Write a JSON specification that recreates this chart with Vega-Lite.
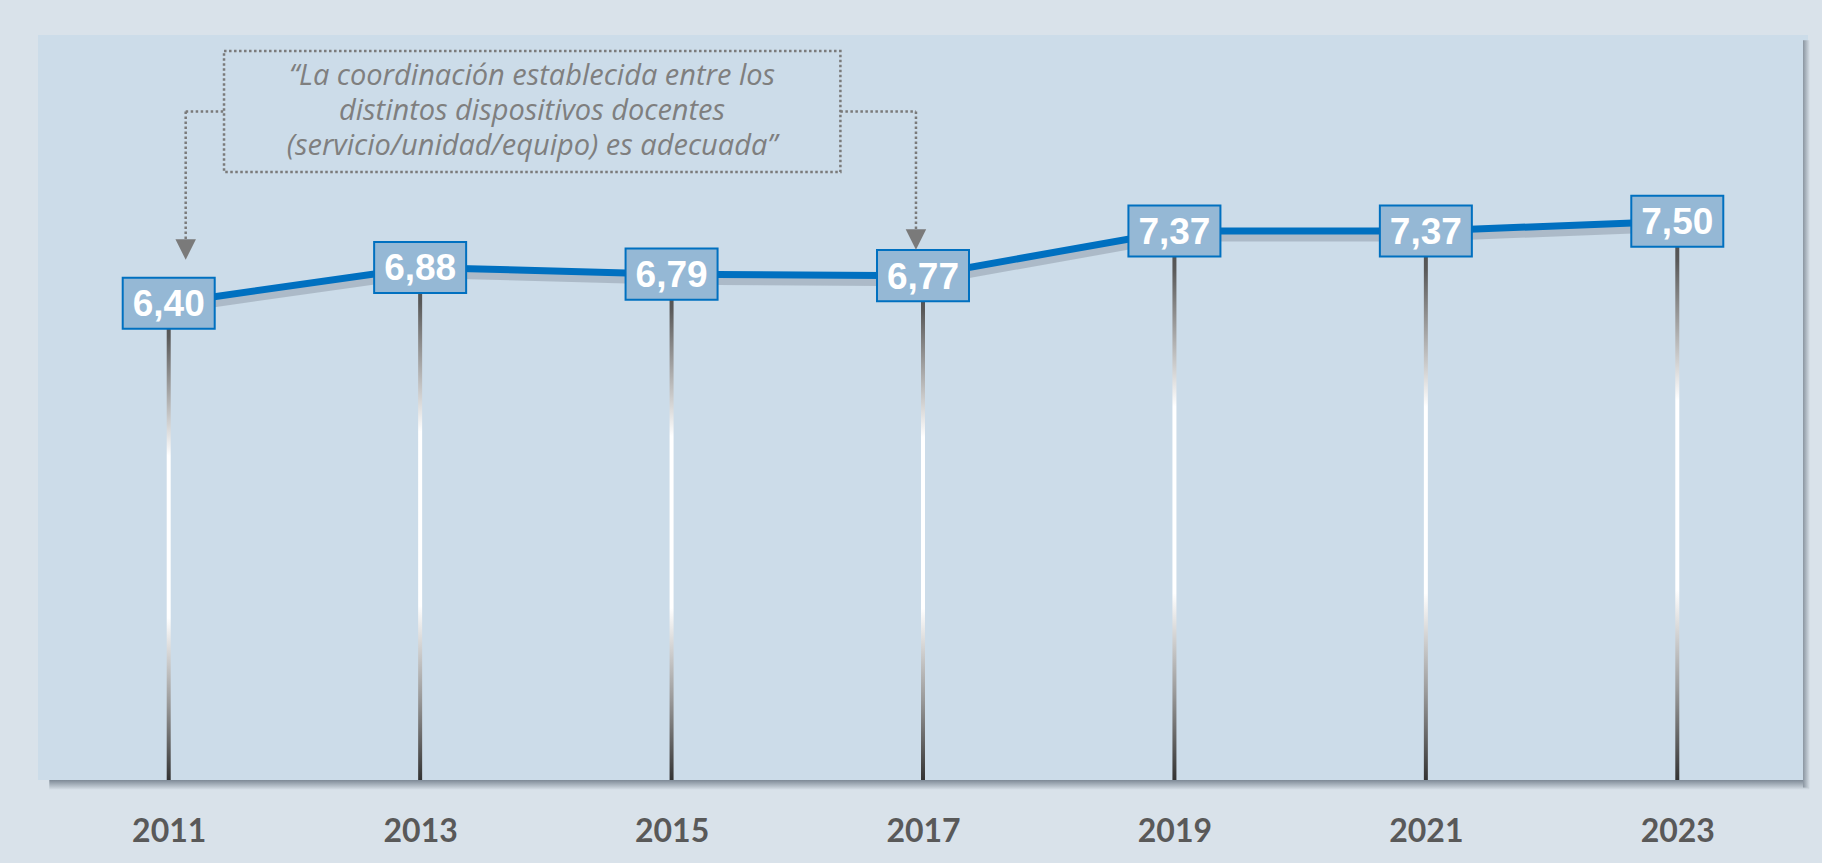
{
  "$schema": "https://vega.github.io/schema/vega-lite/v6.json",
  "width": 1770,
  "height": 745,
  "autosize": {"type": "none"},
  "padding": {"left": 38, "top": 35, "right": 14, "bottom": 83},
  "background": "#d9e2ea",
  "config": {
    "view": {"fill": "#ccdce9", "stroke": null},
    "axisX": {"title": null, "domain": false, "ticks": false, "tickSize": 0, "grid": false,
      "labelFont": "Lato", "labelFontWeight": "bold", "labelFontSize": 32, "labelColor": "#595959", "labelBaseline": "alphabetic", "labelPadding": 61, "labelFlush": false, "labelOverlap": false},
    "locale": {"number": {"decimal": ",", "thousands": ".", "grouping": [3], "currency": ["", " €"]}}
  },
  "data": {"values": [
    {"year": 2011, "value": 6.40},
    {"year": 2013, "value": 6.88},
    {"year": 2015, "value": 6.79},
    {"year": 2017, "value": 6.77},
    {"year": 2019, "value": 7.37},
    {"year": 2021, "value": 7.37},
    {"year": 2023, "value": 7.50}
  ]},
  "layer": [
    {
      "mark": {"type": "bar", "orient": "vertical", "size": 4, "fill": {"gradient": "linear", "x1": 0, "y1": 0, "x2": 0, "y2": 1, "stops": [
        {"offset": 0, "color": "#4a4a4a"},
        {"offset": 0.07, "color": "#595959"},
        {"offset": 0.17, "color": "#9a9a9a"},
        {"offset": 0.32, "color": "#ffffff"},
        {"offset": 0.66, "color": "#ffffff"},
        {"offset": 0.84, "color": "#9a9a9a"},
        {"offset": 1, "color": "#333333"}
      ]}},
      "encoding": {
        "x": {"field": "year", "type": "quantitative", "title": null, "scale": {"domain": [2010, 2024], "nice": false, "zero": false},
          "axis": {"values": [2011, 2013, 2015, 2017, 2019, 2021, 2023], "format": "d", "title": null}},
        "y": {"field": "value", "type": "quantitative", "title": null, "scale": {"domain": [0, 10], "nice": false}, "axis": null},
        "y2": {"datum": 0}
      }
    },
    {
      "data": {"values": [{}]},
      "mark": {"type": "rect", "fill": {"gradient": "linear", "x1": 0, "y1": 0, "x2": 0, "y2": 1, "stops": [{"offset": 0, "color": "#7d8995"}, {"offset": 1, "color": "#d6dfe7"}]}},
      "encoding": {
        "x": {"datum": 2010.05, "type": "quantitative", "title": null, "scale": {"domain": [2010, 2024], "nice": false, "zero": false},
          "axis": {"values": [2011, 2013, 2015, 2017, 2019, 2021, 2023], "format": "d", "title": null}},
        "x2": {"datum": 2024.05},
        "y": {"datum": 0, "type": "quantitative", "title": null, "scale": {"domain": [0, 10], "nice": false}, "axis": null},
        "y2": {"datum": -0.13}
      }
    },
    {
      "data": {"values": [{}]},
      "mark": {"type": "rect", "fill": {"gradient": "linear", "x1": 0, "y1": 0, "x2": 1, "y2": 0, "stops": [{"offset": 0, "color": "#8a95a0"}, {"offset": 1, "color": "#d8e1e9"}]}},
      "encoding": {
        "x": {"datum": 2024, "type": "quantitative", "title": null, "scale": {"domain": [2010, 2024], "nice": false, "zero": false},
          "axis": {"values": [2011, 2013, 2015, 2017, 2019, 2021, 2023], "format": "d", "title": null}},
        "x2": {"datum": 2024.055},
        "y": {"datum": -0.1, "type": "quantitative", "title": null, "scale": {"domain": [0, 10], "nice": false}, "axis": null},
        "y2": {"datum": 9.93}
      }
    },
    {
      "mark": {"type": "line", "color": "#5a6673", "opacity": 0.28, "strokeWidth": 9, "yOffset": 6},
      "encoding": {
        "x": {"field": "year", "type": "quantitative", "title": null, "scale": {"domain": [2010, 2024], "nice": false, "zero": false},
          "axis": {"values": [2011, 2013, 2015, 2017, 2019, 2021, 2023], "format": "d", "title": null}},
        "y": {"field": "value", "type": "quantitative", "title": null, "scale": {"domain": [0, 10], "nice": false}, "axis": null}
      }
    },
    {
      "mark": {"type": "line", "color": "#0070c0", "strokeWidth": 7},
      "encoding": {
        "x": {"field": "year", "type": "quantitative", "title": null, "scale": {"domain": [2010, 2024], "nice": false, "zero": false},
          "axis": {"values": [2011, 2013, 2015, 2017, 2019, 2021, 2023], "format": "d", "title": null}},
        "y": {"field": "value", "type": "quantitative", "title": null, "scale": {"domain": [0, 10], "nice": false}, "axis": null}
      }
    },
    {
      "mark": {"type": "point", "shape": "M-1,-0.555L1,-0.555L1,0.555L-1,0.555Z", "size": 8464, "filled": true, "fill": "#95b8d5", "stroke": "#0070c0", "strokeWidth": 2, "opacity": 1, "fillOpacity": 1, "strokeOpacity": 1},
      "encoding": {
        "x": {"field": "year", "type": "quantitative", "title": null, "scale": {"domain": [2010, 2024], "nice": false, "zero": false},
          "axis": {"values": [2011, 2013, 2015, 2017, 2019, 2021, 2023], "format": "d", "title": null}},
        "y": {"field": "value", "type": "quantitative", "title": null, "scale": {"domain": [0, 10], "nice": false}, "axis": null}
      }
    },
    {
      "mark": {"type": "text", "font": "Liberation Sans", "fontWeight": "bold", "fontSize": 37, "color": "#ffffff", "align": "center", "baseline": "alphabetic", "dy": 13},
      "encoding": {
        "x": {"field": "year", "type": "quantitative", "title": null, "scale": {"domain": [2010, 2024], "nice": false, "zero": false},
          "axis": {"values": [2011, 2013, 2015, 2017, 2019, 2021, 2023], "format": "d", "title": null}},
        "y": {"field": "value", "type": "quantitative", "title": null, "scale": {"domain": [0, 10], "nice": false}, "axis": null},
        "text": {"field": "value", "type": "quantitative", "format": ".2f"}
      }
    },
    {
      "data": {"values": [{}]},
      "mark": {"type": "rect", "fill": "transparent", "stroke": "#7a7a7a", "strokeWidth": 2.5, "strokeDash": [2.5, 2.5]},
      "encoding": {
        "x": {"datum": 2011.44, "type": "quantitative", "title": null, "scale": {"domain": [2010, 2024], "nice": false, "zero": false},
          "axis": {"values": [2011, 2013, 2015, 2017, 2019, 2021, 2023], "format": "d", "title": null}},
        "x2": {"datum": 2016.343},
        "y": {"datum": 9.785, "type": "quantitative", "title": null, "scale": {"domain": [0, 10], "nice": false}, "axis": null},
        "y2": {"datum": 8.161}
      }
    },
    {
      "data": {"values": [{}]},
      "mark": {"type": "rule", "stroke": "#7a7a7a", "strokeWidth": 2.5, "strokeDash": [2.5, 2.5]},
      "encoding": {
        "x": {"datum": 2011.135, "type": "quantitative", "title": null, "scale": {"domain": [2010, 2024], "nice": false, "zero": false},
          "axis": {"values": [2011, 2013, 2015, 2017, 2019, 2021, 2023], "format": "d", "title": null}},
        "x2": {"datum": 2011.44},
        "y": {"datum": 8.973, "type": "quantitative", "title": null, "scale": {"domain": [0, 10], "nice": false}, "axis": null}
      }
    },
    {
      "data": {"values": [{}]},
      "mark": {"type": "rule", "stroke": "#7a7a7a", "strokeWidth": 2.5, "strokeDash": [2.5, 2.5]},
      "encoding": {
        "x": {"datum": 2011.135, "type": "quantitative", "title": null, "scale": {"domain": [2010, 2024], "nice": false, "zero": false},
          "axis": {"values": [2011, 2013, 2015, 2017, 2019, 2021, 2023], "format": "d", "title": null}},
        "y": {"datum": 8.973, "type": "quantitative", "title": null, "scale": {"domain": [0, 10], "nice": false}, "axis": null},
        "y2": {"datum": 7.221}
      }
    },
    {
      "data": {"values": [{}]},
      "mark": {"type": "rule", "stroke": "#7a7a7a", "strokeWidth": 2.5, "strokeDash": [2.5, 2.5]},
      "encoding": {
        "x": {"datum": 2016.343, "type": "quantitative", "title": null, "scale": {"domain": [2010, 2024], "nice": false, "zero": false},
          "axis": {"values": [2011, 2013, 2015, 2017, 2019, 2021, 2023], "format": "d", "title": null}},
        "x2": {"datum": 2016.944},
        "y": {"datum": 8.973, "type": "quantitative", "title": null, "scale": {"domain": [0, 10], "nice": false}, "axis": null}
      }
    },
    {
      "data": {"values": [{}]},
      "mark": {"type": "rule", "stroke": "#7a7a7a", "strokeWidth": 2.5, "strokeDash": [2.5, 2.5]},
      "encoding": {
        "x": {"datum": 2016.944, "type": "quantitative", "title": null, "scale": {"domain": [2010, 2024], "nice": false, "zero": false},
          "axis": {"values": [2011, 2013, 2015, 2017, 2019, 2021, 2023], "format": "d", "title": null}},
        "y": {"datum": 8.973, "type": "quantitative", "title": null, "scale": {"domain": [0, 10], "nice": false}, "axis": null},
        "y2": {"datum": 7.356}
      }
    },
    {
      "data": {"values": [{}]},
      "mark": {"type": "point", "shape": "M-1,-1L1,-1L0,1Z", "size": 420, "filled": true, "color": "#7a7a7a", "opacity": 1},
      "encoding": {
        "x": {"datum": 2011.135, "type": "quantitative", "title": null, "scale": {"domain": [2010, 2024], "nice": false, "zero": false},
          "axis": {"values": [2011, 2013, 2015, 2017, 2019, 2021, 2023], "format": "d", "title": null}},
        "y": {"datum": 7.121, "type": "quantitative", "title": null, "scale": {"domain": [0, 10], "nice": false}, "axis": null}
      }
    },
    {
      "data": {"values": [{}]},
      "mark": {"type": "point", "shape": "M-1,-1L1,-1L0,1Z", "size": 420, "filled": true, "color": "#7a7a7a", "opacity": 1},
      "encoding": {
        "x": {"datum": 2016.944, "type": "quantitative", "title": null, "scale": {"domain": [2010, 2024], "nice": false, "zero": false},
          "axis": {"values": [2011, 2013, 2015, 2017, 2019, 2021, 2023], "format": "d", "title": null}},
        "y": {"datum": 7.255, "type": "quantitative", "title": null, "scale": {"domain": [0, 10], "nice": false}, "axis": null}
      }
    },
    {
      "data": {"values": [{}]},
      "mark": {"type": "text", "text": ["“La coordinación establecida entre los", "distintos dispositivos docentes", "(servicio/unidad/equipo) es adecuada”"], "font": "Open Sans", "fontStyle": "italic", "fontSize": 29, "lineHeight": 35, "color": "#7f7f7f", "align": "center", "baseline": "alphabetic"},
      "encoding": {
        "x": {"datum": 2013.89, "type": "quantitative", "title": null, "scale": {"domain": [2010, 2024], "nice": false, "zero": false},
          "axis": {"values": [2011, 2013, 2015, 2017, 2019, 2021, 2023], "format": "d", "title": null}},
        "y": {"datum": 9.329, "type": "quantitative", "title": null, "scale": {"domain": [0, 10], "nice": false}, "axis": null}
      }
    }
  ]
}
